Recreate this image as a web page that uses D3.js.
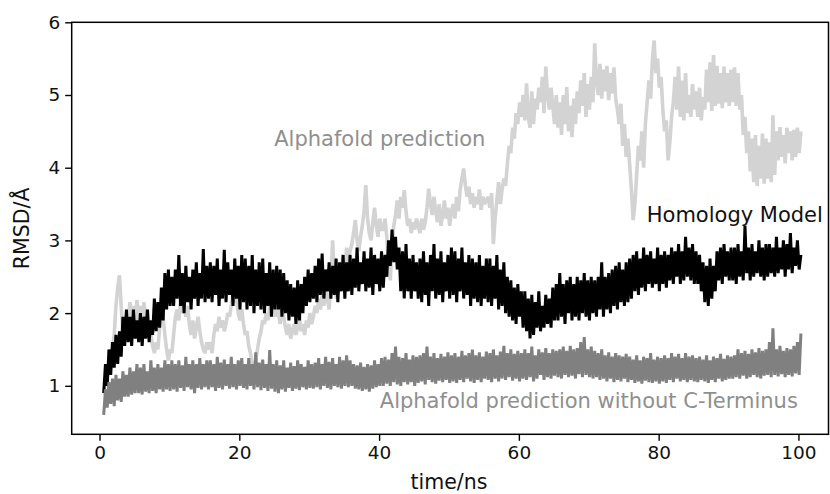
<!DOCTYPE html>
<html>
<head>
<meta charset="utf-8">
<script src="https://cdn.jsdelivr.net/npm/d3@7"></script>
<style>
  html, body { margin: 0; padding: 0; background: #fff; }
  svg { display: block; }
  text { font-family: "DejaVu Sans", sans-serif; }
</style>
</head>
<body>
<svg id="chart" width="830" height="494"></svg>
<script>
// ---------------- data ----------------
// sampling: time/ns starts at 0.6, one value every 0.25 ns (20 values = 5 ns per row)
const tStart = 0.6;
const tStep = 0.25;

const xTicks = [0, 20, 40, 60, 80, 100];
const yTicks = [1, 2, 3, 4, 5, 6];

const seriesNames = ["Alphafold prediction", "Homology Model", "Alphafold prediction without C-Terminus"];

const alphafold = [
  0.9,1.05,1.1,1.3,1.35,1.5,1.7,2.1,2.35,2.52,2.1,1.7,1.8,2.0,1.85,2.15,1.9,2.1,1.85,2.18,
  1.9,2.1,1.85,2.15,1.95,2.05,1.8,1.7,1.55,1.45,1.6,1.5,1.8,2.1,1.95,1.7,1.5,1.35,1.5,1.45,
  1.7,1.95,2.05,1.9,2.18,2.0,2.15,1.95,2.1,1.85,1.7,1.9,1.65,1.8,1.95,1.75,1.6,1.5,1.45,1.6,
  1.5,1.6,1.45,1.7,1.85,1.75,1.95,1.8,1.9,1.75,1.85,2.0,1.95,2.1,2.27,2.15,2.2,2.0,1.9,2.05,
  1.85,1.7,1.75,1.55,1.45,1.3,1.22,1.35,1.5,1.65,1.75,1.9,1.85,2.0,1.9,2.1,2.0,2.2,1.95,2.1,
  2.0,1.85,2.15,1.95,1.8,1.7,1.85,1.65,1.75,1.85,1.7,1.8,1.95,1.75,1.85,1.7,1.9,1.8,2.0,1.85,
  1.95,2.1,2.0,2.2,2.05,2.25,2.1,2.3,2.2,2.05,2.4,3.0,2.5,2.2,2.3,2.6,2.45,2.8,2.55,2.9,
  2.7,2.85,2.95,3.1,3.28,3.0,2.85,3.05,3.2,3.4,3.76,3.3,3.1,3.0,3.25,3.45,3.2,3.05,3.3,3.15,
  3.15,3.3,3.05,2.7,2.45,2.9,3.2,3.35,3.55,3.3,3.6,3.45,3.69,3.4,3.2,3.3,3.1,3.25,3.15,3.3,
  3.2,3.1,3.3,3.15,3.25,3.45,3.71,3.5,3.35,3.6,3.4,3.25,3.5,3.2,3.35,3.55,3.3,3.45,3.2,3.4,
  3.5,3.3,3.6,3.4,3.7,3.85,3.99,3.75,3.6,3.74,3.5,3.65,3.45,3.6,3.5,3.7,3.42,3.6,3.5,3.55,
  3.6,3.45,3.65,2.95,3.3,3.55,3.8,3.5,3.7,3.85,3.75,4.05,4.3,4.2,4.55,4.4,4.75,4.6,4.9,4.7,
  5.0,4.65,5.16,4.7,4.55,5.05,4.6,4.95,4.8,5.1,4.9,5.25,4.75,5.39,5.0,4.8,5.1,4.85,4.6,5.0,
  4.55,4.9,4.45,5.0,4.6,5.11,4.5,4.85,4.42,4.95,4.6,5.05,4.75,5.2,4.85,5.3,4.7,5.15,4.8,5.25,
  4.9,5.71,5.2,5.0,5.43,4.95,5.35,5.05,5.4,4.93,5.3,5.02,5.38,4.95,4.8,4.6,4.88,4.3,4.6,4.15,
  4.4,4.05,3.7,3.28,3.5,3.9,4.3,4.1,4.5,4.0,4.6,4.9,5.2,4.95,5.48,5.75,5.3,5.5,5.1,5.25,
  4.8,4.5,4.65,4.1,4.35,4.7,4.9,5.25,4.8,5.39,4.7,5.2,4.65,5.3,4.75,5.0,4.7,5.15,4.8,5.05,
  4.7,5.1,4.65,4.97,4.8,5.35,4.9,5.45,4.78,5.55,4.85,5.4,4.88,5.3,4.82,5.39,4.9,5.3,4.85,5.35,
  4.9,5.38,4.85,5.3,4.8,5.0,4.45,4.7,4.2,4.5,3.95,4.4,3.8,4.45,3.75,4.3,3.85,4.47,3.78,4.4,
  3.85,4.35,3.8,4.72,3.9,4.5,4.1,4.56,4.15,4.45,4.06,4.55,4.2,4.5,4.1,4.52,4.15,4.55,4.2,4.5
];

const homology = [
  0.9,1.3,1.0,1.5,1.15,1.6,1.25,1.7,1.3,1.75,1.4,1.95,1.55,2.05,1.6,1.95,1.55,2.05,1.65,1.9,
  1.6,2.0,1.55,1.95,1.65,2.05,1.6,1.9,1.7,2.2,1.75,2.15,1.8,2.35,1.9,2.55,2.05,2.6,2.1,2.5,
  2.1,2.6,2.2,2.8,2.1,2.55,2.0,2.65,2.15,2.5,2.05,2.6,2.2,2.7,2.1,2.55,2.2,2.88,2.15,2.65,
  2.2,2.7,2.15,2.65,2.25,2.75,2.1,2.6,2.2,2.87,2.15,2.7,2.25,2.6,2.1,2.75,2.2,2.65,2.05,2.8,
  2.15,2.75,2.05,2.65,2.1,2.8,2.0,2.6,2.1,2.7,2.05,2.75,2.0,2.55,2.1,2.7,1.95,2.6,2.05,2.65,
  2.05,2.6,1.95,2.55,2.0,2.45,1.9,2.4,1.95,2.35,1.85,2.45,1.9,2.4,2.0,2.5,2.1,2.6,2.15,2.55,
  2.2,2.65,2.15,2.75,2.25,2.82,2.2,2.6,2.3,2.7,2.2,2.65,2.25,2.75,2.15,2.7,2.3,2.8,2.2,2.7,
  2.3,2.8,2.25,2.75,2.35,2.9,2.3,2.7,2.4,2.85,2.3,2.75,2.35,2.9,2.25,2.8,2.4,2.75,2.3,2.85,
  2.35,2.8,2.5,3.0,2.65,3.15,2.7,3.05,2.6,2.9,2.3,2.85,2.2,2.95,2.3,2.75,2.2,2.8,2.3,2.7,
  2.2,2.75,2.15,2.85,2.25,2.7,2.1,2.8,2.3,2.95,2.2,2.75,2.25,2.85,2.15,2.7,2.3,2.8,2.2,2.9,
  2.25,2.85,2.15,2.75,2.3,2.9,2.2,2.7,2.25,2.8,2.1,2.75,2.2,2.7,2.15,2.8,2.1,2.65,2.2,2.75,
  2.15,2.75,2.1,2.65,2.2,2.8,2.05,2.6,2.1,2.7,2.0,2.5,1.95,2.45,1.9,2.35,1.85,2.4,1.95,2.3,
  1.8,2.3,1.75,2.2,1.65,2.25,1.7,2.15,1.8,2.3,1.75,2.1,1.8,2.25,1.85,2.2,1.8,2.35,1.9,2.4,
  1.9,2.55,1.95,2.4,1.85,2.45,2.0,2.5,1.9,2.4,1.95,2.5,1.9,2.45,2.0,2.55,1.95,2.45,1.9,2.5,
  2.0,2.45,1.95,2.5,2.05,2.7,1.95,2.5,2.05,2.55,2.0,2.6,2.1,2.65,2.05,2.7,2.15,2.6,2.1,2.7,
  2.15,2.75,2.2,2.8,2.3,2.85,2.25,2.75,2.35,2.9,2.3,2.8,2.4,2.85,2.35,2.75,2.4,2.9,2.3,2.8,
  2.4,2.85,2.35,2.8,2.45,2.9,2.4,2.85,2.5,2.95,2.4,2.85,2.45,3.05,2.5,2.9,2.45,2.95,2.4,2.85,
  2.4,2.8,2.3,2.7,2.15,2.65,2.1,2.75,2.2,2.65,2.3,2.85,2.45,2.9,2.4,2.95,2.5,2.85,2.45,2.9,
  2.45,2.9,2.4,2.95,2.5,2.85,2.45,3.2,2.55,2.9,2.45,2.95,2.5,2.85,2.55,3.0,2.5,2.9,2.45,2.95,
  2.5,2.95,2.55,2.9,2.5,3.05,2.55,2.9,2.6,3.0,2.5,2.95,2.6,3.1,2.55,2.9,2.65,3.0,2.6,2.8
];

const withoutCTerm = [
  0.6,0.95,0.7,1.05,0.75,1.1,0.72,1.15,0.8,1.1,0.78,1.2,0.85,1.15,0.85,1.25,0.88,1.2,0.9,1.3,
  0.9,1.25,0.88,1.3,0.92,1.2,0.9,1.35,0.93,1.25,0.9,1.3,0.95,1.25,0.92,1.35,0.95,1.3,0.93,1.35,
  0.95,1.3,0.92,1.35,0.97,1.28,0.93,1.4,0.98,1.3,0.95,1.35,0.9,1.3,0.97,1.38,0.95,1.3,0.98,1.35,
  0.95,1.35,0.98,1.3,0.93,1.4,0.97,1.32,0.95,1.36,1.0,1.3,0.96,1.4,0.98,1.3,0.95,1.35,1.0,1.38,
  0.97,1.3,0.95,1.38,1.0,1.3,0.95,1.46,0.98,1.32,0.94,1.36,0.97,1.3,0.93,1.49,0.96,1.3,0.92,1.35,
  0.9,1.28,0.95,1.35,0.92,1.25,0.97,1.32,0.93,1.27,0.96,1.35,0.94,1.3,0.98,1.26,0.95,1.35,0.97,1.3,
  0.96,1.32,0.98,1.38,0.95,1.3,1.0,1.4,0.97,1.33,0.95,1.38,1.0,1.3,0.98,1.4,0.96,1.35,1.0,1.42,
  0.98,1.35,1.0,1.3,0.96,1.28,0.95,1.32,0.93,1.26,0.95,1.3,0.92,1.28,0.96,1.35,0.98,1.3,1.0,1.38,
  1.0,1.4,1.03,1.36,1.0,1.45,1.05,1.54,1.02,1.4,1.0,1.38,1.05,1.45,1.02,1.36,1.05,1.42,1.0,1.4,
  1.04,1.42,1.06,1.45,1.02,1.54,1.08,1.4,1.05,1.45,1.03,1.38,1.07,1.44,1.05,1.4,1.08,1.46,1.04,1.42,
  1.06,1.45,1.04,1.4,1.08,1.48,1.05,1.42,1.1,1.45,1.06,1.5,1.04,1.42,1.08,1.46,1.05,1.4,1.1,1.47,
  1.08,1.45,1.05,1.5,1.1,1.42,1.06,1.47,1.1,1.55,1.08,1.45,1.12,1.5,1.07,1.44,1.1,1.48,1.06,1.45,
  1.1,1.5,1.08,1.45,1.12,1.54,1.06,1.42,1.1,1.5,1.15,1.46,1.08,1.52,1.12,1.45,1.1,1.5,1.14,1.48,
  1.12,1.5,1.1,1.54,1.15,1.48,1.12,1.55,1.14,1.5,1.1,1.52,1.16,1.6,1.12,1.67,1.15,1.5,1.12,1.54,
  1.1,1.48,1.12,1.45,1.08,1.5,1.1,1.42,1.06,1.46,1.1,1.4,1.05,1.45,1.08,1.42,1.06,1.4,1.1,1.44,
  1.05,1.4,1.08,1.36,1.04,1.42,1.06,1.35,1.03,1.4,1.07,1.38,1.05,1.45,1.04,1.36,1.06,1.4,1.03,1.38,
  1.06,1.42,1.04,1.38,1.08,1.45,1.05,1.4,1.1,1.44,1.06,1.38,1.08,1.45,1.05,1.4,1.08,1.42,1.06,1.38,
  1.05,1.4,1.08,1.36,1.06,1.42,1.04,1.35,1.08,1.4,1.05,1.38,1.1,1.44,1.06,1.37,1.08,1.42,1.1,1.4,
  1.1,1.42,1.12,1.5,1.1,1.45,1.14,1.48,1.1,1.44,1.12,1.5,1.15,1.46,1.12,1.52,1.1,1.48,1.14,1.5,
  1.15,1.6,1.12,1.79,1.15,1.5,1.13,1.55,1.16,1.48,1.12,1.52,1.15,1.5,1.13,1.55,1.17,1.6,1.15,1.72
];

// ---------------- chart ----------------
const svg = d3.select("#chart");
const plotLeft = 71.7, plotRight = 828.5, plotTop = 22.3, plotBottom = 434.3;

const x = d3.scaleLinear().domain([-3.98, 104.3]).range([plotLeft, plotRight]);
const y = d3.scaleLinear().domain([0.333, 6.0]).range([plotBottom, plotTop]);

svg.append("defs").append("clipPath").attr("id", "plotclip")
  .append("rect").attr("x", plotLeft).attr("y", plotTop)
  .attr("width", plotRight - plotLeft).attr("height", plotBottom - plotTop);

const series = [
  { name: seriesNames[0], values: alphafold, color: "#d3d3d3", width: 3.6 },
  { name: seriesNames[1], values: homology, color: "#000000", width: 3.0 },
  { name: seriesNames[2], values: withoutCTerm, color: "#808080", width: 3.0 }
];

const line = d3.line()
  .x((d, i) => x(tStart + i * tStep))
  .y(d => y(d));

const plot = svg.append("g").attr("clip-path", "url(#plotclip)");
series.forEach(s => {
  plot.append("path")
    .datum(s.values)
    .attr("d", line)
    .attr("fill", "none")
    .attr("stroke", s.color)
    .attr("stroke-width", s.width)
    .attr("stroke-linejoin", "miter")
    .attr("stroke-miterlimit", 2);
});

// axes
const xAxis = d3.axisBottom(x).tickValues(xTicks).tickSize(6.5).tickPadding(5).tickFormat(d3.format("d"));
const yAxis = d3.axisLeft(y).tickValues(yTicks).tickSize(6.5).tickPadding(5).tickFormat(d3.format("d"));

const gx = svg.append("g").attr("transform", `translate(0,${plotBottom})`).call(xAxis);
const gy = svg.append("g").attr("transform", `translate(${plotLeft},0)`).call(yAxis);
[gx, gy].forEach(g => {
  g.select(".domain").remove();
  g.selectAll(".tick line").attr("stroke", "#000").attr("stroke-width", 1.4);
  g.selectAll(".tick text").attr("fill", "#111").style("font-size", "18.5px")
    .style("font-family", "'DejaVu Sans', sans-serif");
});

// frame (spines)
svg.append("rect")
  .attr("x", plotLeft).attr("y", plotTop)
  .attr("width", plotRight - plotLeft).attr("height", plotBottom - plotTop)
  .attr("fill", "none").attr("stroke", "#000").attr("stroke-width", 1.5);

// axis labels
svg.append("text")
  .attr("x", x(50)).attr("y", 489)
  .attr("text-anchor", "middle").attr("fill", "#111")
  .style("font-size", "20.5px")
  .text("time/ns");

svg.append("text")
  .attr("transform", `translate(29,${(plotTop + plotBottom) / 2}) rotate(-90)`)
  .attr("text-anchor", "middle").attr("fill", "#111")
  .style("font-size", "20.5px")
  .text("RMSD/Å");

// annotations
const labels = [
  { text: seriesNames[0], t: 25.0, v: 4.3, color: "#8f8f8f" },
  { text: seriesNames[1], t: 78.3, v: 3.255, color: "#111" },
  { text: seriesNames[2], t: 40.1, v: 0.69, color: "#8f8f8f" }
];
labels.forEach(l => {
  svg.append("text")
    .attr("x", x(l.t)).attr("y", y(l.v))
    .attr("fill", l.color)
    .style("font-size", "21px")
    .text(l.text);
});
</script>
</body>
</html>
